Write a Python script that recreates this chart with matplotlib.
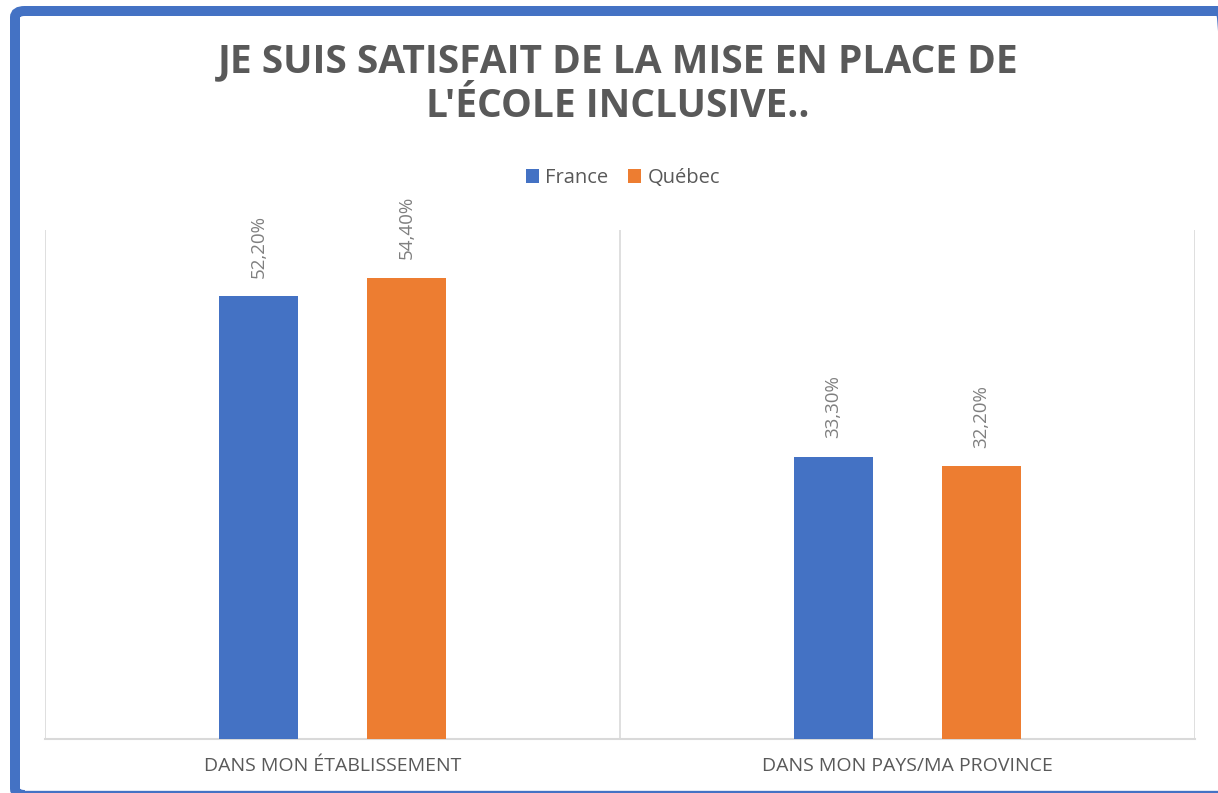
import matplotlib
matplotlib.use("Agg")
import matplotlib.pyplot as plt
from matplotlib.patches import FancyBboxPatch
from matplotlib.lines import Line2D
import numpy as np

title = "JE SUIS SATISFAIT DE LA MISE EN PLACE DE\nL'ÉCOLE INCLUSIVE.."
categories = ["DANS MON ÉTABLISSEMENT", "DANS MON PAYS/MA PROVINCE"]
series_names = ["France", "Québec"]
france = [52.2, 33.3]
quebec = [54.4, 32.2]
colors = ["#4472C4", "#ED7D31"]

plt.rcParams['font.family'] = ['Open Sans', 'DejaVu Sans']

W, H = 1218, 793
fig = plt.figure(figsize=(W / 100, H / 100), dpi=100)
fig.patch.set_facecolor("white")

# outer blue frame
frame = FancyBboxPatch((15 / W, -2 / H), (1230 - 15) / W, (795 - 11) / H,
                       boxstyle="round,pad=0,rounding_size=0.008",
                       transform=fig.transFigure, facecolor="none",
                       edgecolor="#4472C4", linewidth=7.2, zorder=5)
fig.patches.append(frame)
fig.add_artist(Line2D([15 / W, 1.0], [1.5 / H, 1.5 / H], transform=fig.transFigure,
                      color="#4472C4", linewidth=2.4, zorder=6))

ax = fig.add_axes([45 / W, 54 / H, 1150 / W, 509 / H])
ax.set_facecolor("none")

x = np.arange(len(categories))
bw = 0.136
off = 0.1287
for vals, c, name, sgn in [(france, colors[0], series_names[0], -1),
                           (quebec, colors[1], series_names[1], 1)]:
    bars = ax.bar(x + sgn * off, vals, width=bw, color=c, label=name, zorder=3)
    for b, v in zip(bars, vals):
        ax.annotate(f"{v:.2f}%".replace(".", ","),
                    (b.get_x() + b.get_width() / 2, v),
                    xytext=(0, 13), textcoords="offset points",
                    rotation=90, ha="center", va="bottom",
                    fontsize=13.5, color="#7F7F7F")

ax.set_xlim(-0.5, 1.5)
ax.set_ylim(0, 60)
ax.set_yticks([])
ax.set_xticks(x)
ax.set_xticklabels(categories, fontsize=14, color="#595959")
ax.tick_params(axis="x", length=0, pad=13)
for xv in [-0.5, 0.5, 1.5]:
    ax.axvline(xv, color="#D9D9D9", linewidth=1.2, zorder=1)
for s in ["top", "left", "right"]:
    ax.spines[s].set_visible(False)
ax.spines["bottom"].set_color("#D9D9D9")
ax.spines["bottom"].set_linewidth(1.5)

fig.text(618 / W, 1 - 84 / H, title, ha="center", va="center",
         fontsize=28, fontweight="bold", color="#595959", linespacing=1.2)

leg = fig.legend(loc="center", bbox_to_anchor=(623 / W, 1 - 178 / H),
                 ncol=2, frameon=False, fontsize=14.5, handlelength=0.65,
                 handleheight=0.65, handletextpad=0.3, columnspacing=1.0)
for t in leg.get_texts():
    t.set_color("#595959")

fig.savefig("out.png", dpi=100, facecolor="white")
